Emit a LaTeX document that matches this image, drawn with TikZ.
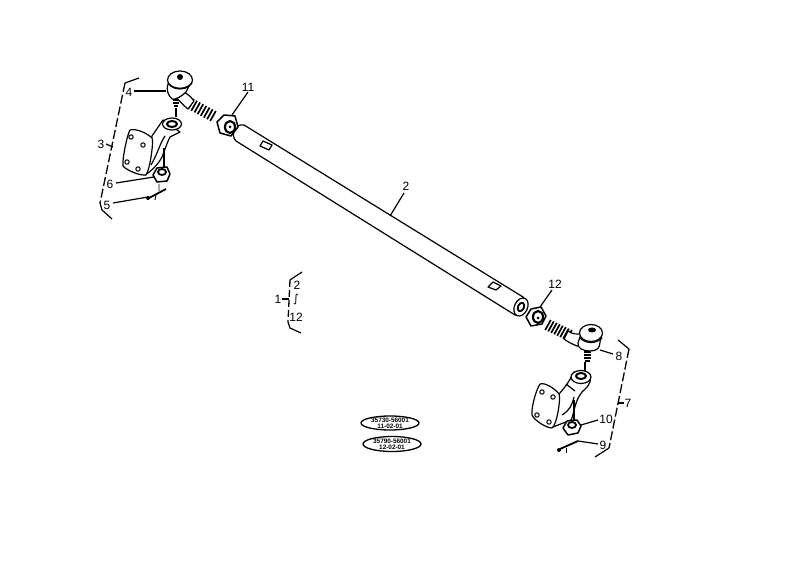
\documentclass[tikz,border=0pt]{standalone}
\usepackage{fontspec}
\setmainfont{Liberation Sans}
\newfontfamily\symfont{DejaVu Sans}
\usetikzlibrary{calc,shapes.geometric}
\tikzset{
  part/.style={draw=black,line width=1.2pt,fill=white,line join=round},
  ln/.style={draw=black,line width=1.2pt,line join=round},
  leader/.style={draw=black,line width=1.2pt},
  brk/.style={draw=black,line width=1.3pt,dash pattern=on 9pt off 3pt},
  lab/.style={font=\fontsize{12}{12}\selectfont,inner sep=0pt,text=black},
  stamp/.style={draw=black,line width=1.3pt,ellipse,fill=white},
  tiny/.style={font=\fontsize{6.4}{6}\selectfont\bfseries,inner sep=0pt,text=black,align=center},
}
\begin{document}
\begin{tikzpicture}[x=1pt,y=-1pt]
\useasboundingbox (0,0) rectangle (793,561);
\fill[white] (0,0) rectangle (793,561);

% tube
\draw[part] (244,125) -- (523,297) .. controls (530,303) and (526,317) .. (515,315)
  -- (236,141) .. controls (230,135) and (235,123) .. (244,125);
\draw[part,rotate around={-25:(521,307)}] (521,307) ellipse (6.5 and 9.5);
\draw[ln,line width=1.8pt,rotate around={-25:(521,307)}] (521,307) ellipse (3 and 4.5);
\draw[part] (263,141)--(272,145)--(269,150)--(260,146)--cycle;
\draw[part] (493,282)--(501,286)--(496,290)--(488,287)--cycle;

% left nut 11
\draw[part,line width=1.5pt] (217,122)--(224,115)--(235,116)--(238,127)--(231,136)--(220,133)--cycle;
\draw[ln,line width=2.2pt] (230,127) ellipse (5 and 6);
\fill (230,127) circle (1.5);
% right nut 12
\draw[part,line width=1.5pt] (526,317)--(531,309)--(541,307)--(546,316)--(542,324)--(531,326)--cycle;
\draw[ln,line width=2.2pt] (538,317) ellipse (5 and 6);
\fill (538,318) circle (1.5);

% left thread and neck
\foreach \t in {0,...,7}{
  \draw[ln,line width=1.7pt] ($(191,104)!\t/7!(213,116)+(2.8,-5)$) -- ($(191,104)!\t/7!(213,116)+(-2.8,5)$);
}
\draw[part] (178,91) .. controls (184,91) and (190,95) .. (194,101) -- (188,109) .. controls (184,106) and (180,101) .. (176,98) -- cycle;
% left head
\draw[part] (168,84) .. controls (166,90) and (168,95) .. (172,99) .. controls (176,100) and (182,96) .. (186,92) -- (190,84) -- cycle;
\draw[part] (180,80) ellipse (12.5 and 9);
\draw[ln] (168,83) .. controls (174,90) and (186,90) .. (192,83);
\fill (180,77) circle (3);
\draw[ln,line width=1.7pt] (173,100)--(179,100) (173,103)--(179,103) (174,106)--(178,106);
\draw[ln,line width=1.5pt] (176,108)--(176,117);

% left plate and arm
\draw[part] (152,136) -- (163,120) -- (180,132) -- (170,137) .. controls (166,145) and (165,150) .. (162,157) .. controls (158,165) and (150,172) .. (145,175) -- cycle;
\draw[ln] (165,136) .. controls (160,143) and (158,153) .. (151,165);
\draw[part] (130,130) .. controls (137,128) and (148,134) .. (152,138) .. controls (154,140) and (150,170) .. (146,175) .. controls (140,176) and (126,170) .. (123,166) .. controls (122,160) and (127,135) .. (130,130) -- cycle;
\draw[ln,line width=1pt] (131,137) circle (2.2) (143,145) circle (2.2) (127,162) circle (2.2) (138,169) circle (2.2);
\draw[part] (172,124) ellipse (9.5 and 6);
\draw[ln,line width=2pt] (172,124) ellipse (5 and 3);

% left nut 6
\draw[part,line width=1.5pt] (153,175)--(157,168)--(167,167)--(170,174)--(167,181)--(157,182)--cycle;
\draw[ln,line width=1.8pt] (162,172) ellipse (4 and 3);
\draw[ln] (164,148)--(164,167);
% pin 5
\draw[ln,line width=1.8pt] (149,198) -- (166,189);
\fill (148,198) circle (2);
\draw[ln,line width=.9pt] (159,184)--(159,191) (156,195)--(155,200);

% right thread and neck
\foreach \t in {0,...,7}{
  \draw[ln,line width=1.7pt] ($(548,325)!\t/7!(569,335)+(2.8,-5)$) -- ($(548,325)!\t/7!(569,335)+(-2.8,5)$);
}
\draw[part] (568,331) .. controls (572,334) and (577,335) .. (583,333) -- (590,344) -- (577,346) .. controls (572,344) and (568,342) .. (564,339) -- cycle;
% right head
\draw[part] (578,343) .. controls (577,348) and (583,351) .. (590,351) .. controls (597,351) and (600,348) .. (600,342) -- (602,334) -- (581,334) -- cycle;
\draw[part] (591,333) ellipse (11.5 and 8.5);
\draw[ln] (580,338) .. controls (586,344) and (596,344) .. (602,338);
\fill (592,330) ellipse (4 and 2.5);
\draw[ln,line width=1.7pt] (584,352)--(591,352) (584,355)--(591,355) (584,358)--(591,358) (585,361)--(590,361);
\draw[ln,line width=1.5pt] (585,362)--(585,371);

% right plate and arm
\draw[part] (558,395) .. controls (565,388) and (570,380) .. (574,372) -- (590,376) .. controls (592,384) and (586,388) .. (582,392) .. controls (574,402) and (574,415) .. (571,420) -- (553,427) -- cycle;
\draw[ln] (566,384)--(575,391) (562,415) .. controls (570,410) and (572,405) .. (574,397);
\draw[part] (540,384) .. controls (546,382) and (556,390) .. (559,394) .. controls (561,398) and (557,425) .. (552,428) .. controls (546,428) and (534,420) .. (532,415) .. controls (531,408) and (536,390) .. (540,384) -- cycle;
\draw[ln,line width=1pt] (542,392) circle (2.2) (553,397) circle (2.2) (537,415) circle (2.2) (549,422) circle (2.2);
\draw[part] (581,377) ellipse (10 and 6.5);
\draw[ln,line width=2pt] (581,376) ellipse (5 and 3);

% right nut 10
\draw[part,line width=1.5pt] (563,428)--(567,421)--(577,420)--(581,426)--(578,433)--(568,435)--cycle;
\draw[ln,line width=1.8pt] (572,425) ellipse (4 and 3);
\draw[ln] (574,400)--(574,420);
% pin 9
\draw[ln,line width=1.8pt] (560,449) -- (578,441);
\fill (559,450) circle (2);
\draw[ln,line width=.9pt] (566,448)--(566,453);

% labels
\node[lab] (n4) at (129,92) {4};
\node[lab] (n3) at (101,144) {3};
\node[lab] (n6) at (110,184) {6};
\node[lab] (n5) at (107,205) {5};
\node[lab] (n11) at (248,87) {11};
\node[lab] (n2) at (406,186) {2};
\node[lab] (n12) at (555,284) {12};
\node[lab] (n8) at (619,356) {8};
\node[lab] (n7) at (628,403) {7};
\node[lab] (n10) at (606,419) {10};
\node[lab] (n9) at (603,445) {9};
\node[lab] (n1) at (278,299) {1};
\node[lab] (g2) at (297,285) {2};
\node[lab] (gs) at (296,300) {\symfont\fontsize{11}{11}\selectfont ∫};
\node[lab] (g12) at (296,317) {12};

% leaders
\coordinate (t4) at (166,91);
\coordinate (t3) at (113,147);
\coordinate (t6) at (154,177);
\coordinate (t5) at (148,197);
\coordinate (t11) at (232,115);
\coordinate (t2) at (390,216);
\coordinate (t12) at (540,307);
\coordinate (t8) at (600,350);
\coordinate (t7) at (618,403);
\coordinate (t10) at (581,425);
\coordinate (t9) at (578,441);
\coordinate (t1) at (289,299);
\draw[leader] (n4) ++(5,-1) -- (t4);
\draw[leader] (n3) ++(5,0) -- (t3);
\draw[leader] (n6) ++(6,-1) -- (t6);
\draw[leader] (n5) ++(6,-2) -- (t5);
\draw[leader] (n11) ++(0,5) -- (t11);
\draw[leader] (n2) ++(-2,7) -- (t2);
\draw[leader] (n12) ++(-3,6) -- (t12);
\draw[leader] (n8) ++(-6,-2) -- (t8);
\draw[leader] (n7) ++(-4,0) -- (t7);
\draw[leader] (n10) ++(-8,1) -- (t10);
\draw[leader] (n9) ++(-5,-1) -- (t9);
\draw[leader] (n1) ++(4,0) -- (t1);

% brackets
\draw[brk] (125,83) -- (100,203);
\draw[ln] (139,78) -- (125,83) (100,203) -- (102,210) -- (112,219);
\draw[brk] (629,349) -- (609,448);
\draw[ln] (618,340) -- (629,349) (609,448) -- (595,457);
\draw[brk,dash pattern=on 7pt off 3pt] (290,280) -- (288,322);
\draw[ln] (302,272) -- (290,280) (288,322) -- (290,328) -- (301,333);

% stamps
\node[stamp,minimum width=58pt,minimum height=14pt,inner sep=0pt] (s1) at (390,423) {};
\node[tiny] at (s1) {35730-56001\\11-02-01};
\node[stamp,minimum width=58pt,minimum height=15pt,inner sep=0pt] (s2) at (392,444) {};
\node[tiny] at (s2) {35790-56001\\12-02-01};
\end{tikzpicture}
\end{document}
